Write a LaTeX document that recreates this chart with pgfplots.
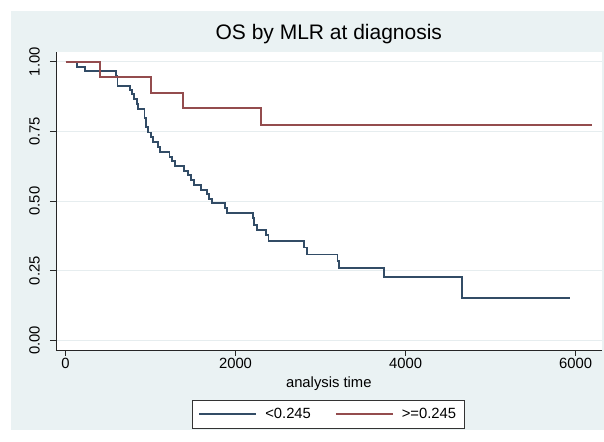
\documentclass[border=0pt]{standalone}
\usepackage{pgfplots}
\pgfplotsset{compat=1.18}
\usepackage{fontspec}
\setmainfont{Liberation Sans}

\definecolor{stbg}{RGB}{234,242,243}
\definecolor{stgrid}{RGB}{230,237,239}
\definecolor{stnavy}{RGB}{50,76,102}
\definecolor{stmaroon}{RGB}{148,76,78}

\begin{document}
\begin{tikzpicture}[x=1bp,y=1bp]
% page and Stata-style outer background
\fill[white] (0,0) rectangle (604,442);
\fill[stbg] (11,12) rectangle (604,431);
\begin{axis}[
    at={(55.9bp,92bp)}, anchor=south west,
    scale only axis,
    width=545.8bp, height=297.7bp,
    xmin=-113, xmax=6308,
    ymin=-0.035, ymax=1.034,
    axis background/.style={fill=white},
    axis x line*=bottom, axis y line*=left,
    axis line style={black!85, line width=0.8bp},
    tick align=outside, major tick length=6bp,
    tick style={black!85, line width=0.8bp},
    xtick={0,2000,4000,6000},
    ytick={0,0.25,0.5,0.75,1},
    scaled x ticks=false,
    /pgf/number format/assume math mode=true,
    xticklabel={\pgfmathprintnumber[1000 sep={}]{\tick}},
    yticklabel={\pgfmathprintnumber[fixed,fixed zerofill,precision=2]{\tick}},
    yticklabel style={xshift=-9bp, rotate=90, anchor=south, inner sep=1bp},
    xticklabel style={inner sep=2bp},
    ticklabel style={font=\fontsize{14.8bp}{17bp}\selectfont},
    ymajorgrids, grid style={stgrid, line width=0.8bp},
    title={OS by MLR at diagnosis},
    title style={at={(0.5,1)}, anchor=base, yshift=7.3bp,
        font=\fontsize{21bp}{25bp}\selectfont},
    xlabel={analysis time},
    xlabel style={at={(axis description cs:0.5,0)}, anchor=base, yshift=-37.3bp,
        font=\fontsize{14.8bp}{17bp}\selectfont},
    legend columns=2,
    legend style={at={(0.499,-0.215)}, anchor=center,
        draw=black!80, fill=white, line width=0.6bp,
        font=\fontsize{14.8bp}{17bp}\selectfont,
        inner xsep=6.5bp, inner ysep=6bp,
        /tikz/every odd column/.append style={column sep=6bp},
        /tikz/every even column/.append style={column sep=22bp}},
    legend image code/.code={\draw[#1] (0bp,0bp) -- (57bp,0bp);},
    const plot,
    every axis plot/.append style={line width=1.9bp, line join=miter},
]
\addplot[stnavy] coordinates {
(0,1) (136,0.982) (227,0.966) (589,0.948) (612,0.914) (757,0.898)
(784,0.883) (807,0.866) (838,0.847) (852,0.831) (929,0.797) (942,0.767)
(974,0.746) (1010,0.731) (1029,0.713) (1087,0.695) (1110,0.677)
(1223,0.659) (1255,0.644) (1291,0.627) (1396,0.608) (1441,0.593)
(1473,0.575) (1509,0.557) (1599,0.539) (1667,0.524) (1686,0.507)
(1722,0.492) (1871,0.474) (1903,0.456) (2202,0.438) (2220,0.414)
(2256,0.396) (2356,0.378) (2388,0.357) (2809,0.333) (2841,0.308)
(3200,0.284) (3217,0.261) (3752,0.227) (4665,0.152) (5930,0.152)
};
\addlegendentry{<0.245}
\addplot[stmaroon] coordinates {
(0,1) (408,0.944) (1006,0.889) (1382,0.833) (2302,0.773) (6194,0.773)
};
\addlegendentry{>=0.245}
\end{axis}
\end{tikzpicture}
\end{document}
